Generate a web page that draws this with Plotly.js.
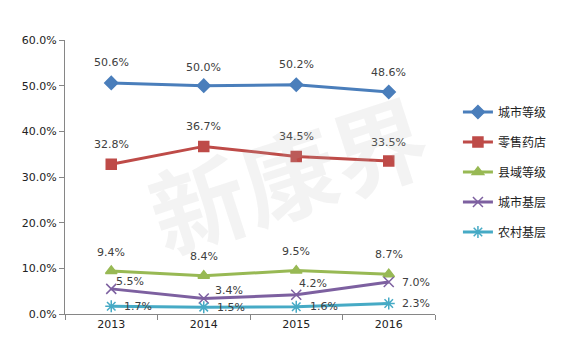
<!DOCTYPE html>
<html><head><meta charset="utf-8">
<script src="https://cdn.plot.ly/plotly-3.0.1.min.js"></script>
<style>html,body{margin:0;padding:0;background:#fff}</style>
</head><body><div id="chart" style="width:574px;height:355px"></div>
<script>
const years = ['2013','2014','2015','2016'];
const cityLevel = [0.506, 0.500, 0.502, 0.486];
const retail = [0.328, 0.367, 0.345, 0.335];
const countyLevel = [0.094, 0.084, 0.095, 0.087];
const cityBase = [0.055, 0.034, 0.042, 0.070];
const ruralBase = [0.017, 0.015, 0.016, 0.023];
const names = ['城市等级','零售药店','县域等级','城市基层','农村基层'];

const fmt = v => (v*100).toFixed(1) + '%';
const font = "'DejaVu Sans', 'Noto Sans CJK SC', sans-serif";
function tr(y, name, color, symbol, size, g){
  return {x: years, y: y, name: name, type:'scatter', mode:'lines+markers',
    line:{color:color, width:3}, marker:{color:color, symbol:symbol, size:size, line:{color:color, width:1.5}},
    legendgroup: g, cliponaxis:false};
}
const data = [
  tr(cityLevel, names[0], '#4a7ebb', 'diamond', 10, 'a'),
  tr(retail, names[1], '#be4b48', 'square', 10, 'b'),
  tr(countyLevel, names[2], '#98b954', 'triangle-up', 10, 'c'),
  tr(cityBase, names[3], '#7d60a0', 'x-thin-open', 10, 'd'),
  tr(ruralBase, names[4], '#46aac5', 'asterisk-open', 10, 'e')
];
// label offsets (pixels) per series / point
const offs = [
  [[0,20],[0,18],[0,20],[0,20]],
  [[0,20],[0,20],[0,20],[0,19]],
  [[0,19],[0,19],[0,19],[0,20]],
  [[19,7],[25,8],[17,11],[27,0]],
  [[27,0],[27,0],[28,0],[27,0]]
];
const series = [cityLevel, retail, countyLevel, cityBase, ruralBase];
const anns = [];
series.forEach((s, i) => s.forEach((v, j) => {
  anns.push({xref:'x', yref:'y', x: j, y: v, text: fmt(v), showarrow:false, xshift: offs[i][j][0], yshift: offs[i][j][1],
    font:{size:11, color:'#404040', family:font}});
}));
anns.push({xref:'paper', yref:'paper', x:0.6, y:0.52, text:'<b>新康界</b>', showarrow:false,
    textangle:-18, font:{size:95, color:'rgba(180,180,180,0.16)', family:"'Noto Sans CJK SC', sans-serif"}});
const layout = {
  width:574, height:355, margin:{l:65, r:139, t:40, b:41},
  paper_bgcolor:'#fff', plot_bgcolor:'#fff',
  font:{family:font, size:11, color:'#404040'},
  xaxis:{type:'category', range:[-0.5,3.5], showline:true, linecolor:'#868686', linewidth:1,
    ticks:'outside', tickson:'boundaries', ticklen:5, tickcolor:'#868686', showgrid:false, zeroline:false,
    tickfont:{size:11, color:'#222'}, fixedrange:true},
  yaxis:{range:[0,0.6], dtick:0.1, tickformat:'.1%', showline:true, linecolor:'#868686', linewidth:1,
    ticks:'outside', ticklen:5, tickcolor:'#868686', showgrid:false, zeroline:false,
    tickfont:{size:11, color:'#222'}},
  showlegend:true,
  legend:{x:1.062, y:0.79, xanchor:'left', yanchor:'top', traceorder:'grouped', tracegroupgap:11,
    font:{size:12, color:'#222', family:"'Noto Sans CJK SC', sans-serif"}, bgcolor:'rgba(0,0,0,0)'},
  annotations: anns
};
Plotly.newPlot('chart', data, layout, {displayModeBar:false, staticPlot:true});
</script></body></html>
